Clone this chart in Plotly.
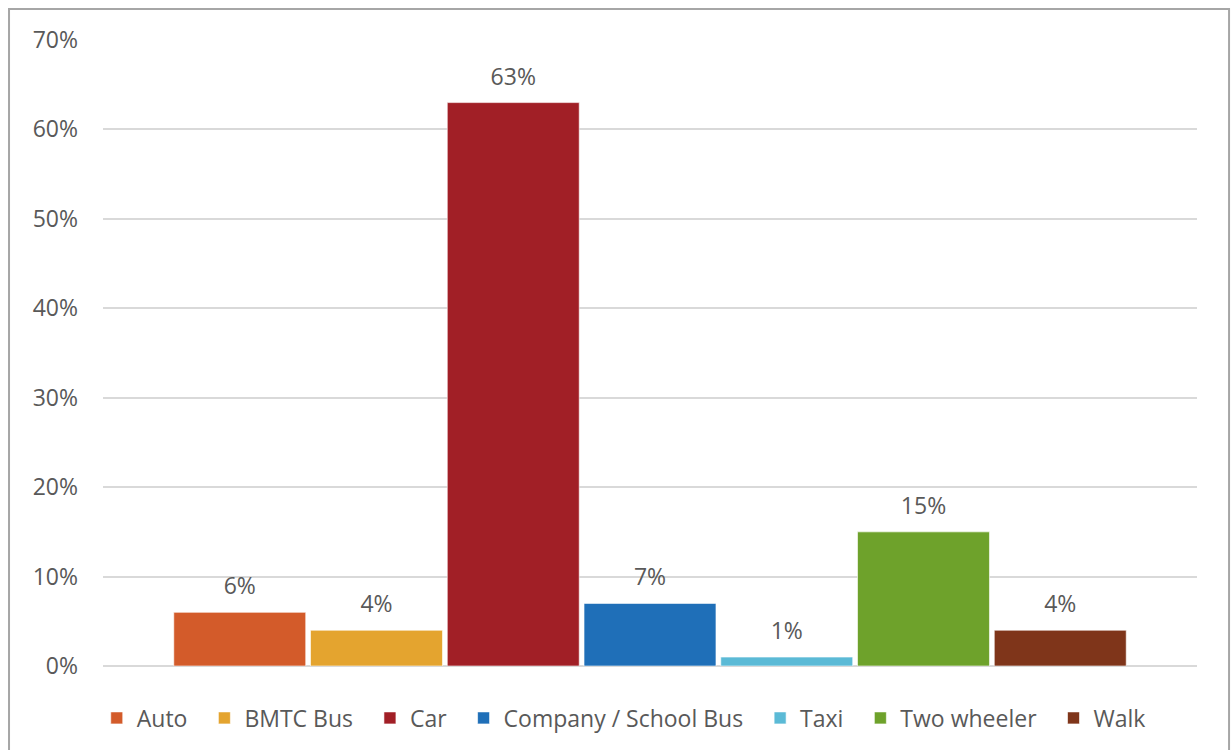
import plotly.graph_objects as go

# Share of commuters by mode of travel (%)
modes = ["Auto", "BMTC Bus", "Car", "Company / School Bus", "Taxi", "Two wheeler", "Walk"]
shares = [6, 4, 63, 7, 1, 15, 4]
colors = ["#D35B2A", "#E4A42F", "#A11F26", "#1F6FB8", "#5BBAD6", "#6EA22B", "#7F351A"]

category = [""]
y_ticks = [0, 10, 20, 30, 40, 50, 60, 70]

FONT = "Open Sans"
TEXT_COLOR = "#595959"
FONT_SIZE = 23
LEGEND_PAD = "\u00a0\u00a0"  # extra breathing room between legend entries

fig = go.Figure()
for i, (mode, share, color) in enumerate(zip(modes, shares, colors)):
    label = mode if i == len(modes) - 1 else mode + LEGEND_PAD
    fig.add_trace(go.Bar(
        name=label,
        x=category,
        y=[share],
        marker=dict(color=color, line=dict(color="rgba(255,255,255,0.6)", width=1)),
        offsetgroup=mode,
        hovertemplate=f"{mode}: %{{y}}%<extra></extra>",
    ))

# Value labels: invisible markers grouped like the bars, text placed above them
for mode, share in zip(modes, shares):
    fig.add_trace(go.Scatter(
        x=category,
        y=[share],
        mode="markers+text",
        marker=dict(size=18, opacity=0),
        text=[f"{share}%"],
        textposition="top center",
        textfont=dict(family=FONT, size=FONT_SIZE, color=TEXT_COLOR),
        cliponaxis=False,
        showlegend=False,
        hoverinfo="skip",
        offsetgroup=mode,
    ))

fig.update_layout(
    width=1231,
    height=750,
    paper_bgcolor="white",
    plot_bgcolor="white",
    barmode="group",
    scattermode="group",
    bargap=0.125,
    scattergap=0.125,
    bargroupgap=0.035,
    margin=dict(l=103, r=34, t=40, b=84, autoexpand=False),
    font=dict(family=FONT, color=TEXT_COLOR, size=FONT_SIZE),
    showlegend=True,
    legend=dict(
        orientation="h",
        x=0.476, xanchor="center",
        y=-0.083, yanchor="middle",
        font=dict(family=FONT, size=FONT_SIZE, color=TEXT_COLOR),
        itemwidth=30,
        traceorder="normal",
    ),
    xaxis=dict(showticklabels=False, showgrid=False, zeroline=False, showline=False),
    yaxis=dict(
        range=[0, 70],
        tickvals=y_ticks,
        ticktext=[f"{t}%" for t in y_ticks],
        showgrid=True,
        gridcolor="#D9D9D9",
        gridwidth=1.5,
        zeroline=True,
        zerolinecolor="#D9D9D9",
        zerolinewidth=1.5,
        showline=False,
        ticks="",
        ticklabelstandoff=24,
        tickfont=dict(family=FONT, size=FONT_SIZE, color=TEXT_COLOR),
    ),
    shapes=[
        dict(
            type="path",
            xref="paper", yref="paper",
            path="M -0.0859,-0.2 L -0.0859,1.0495 L 1.0293,1.0495 L 1.0293,-0.2",
            line=dict(color="#A6A6A6", width=2),
        )
    ],
)

fig.write_html("out.html")
